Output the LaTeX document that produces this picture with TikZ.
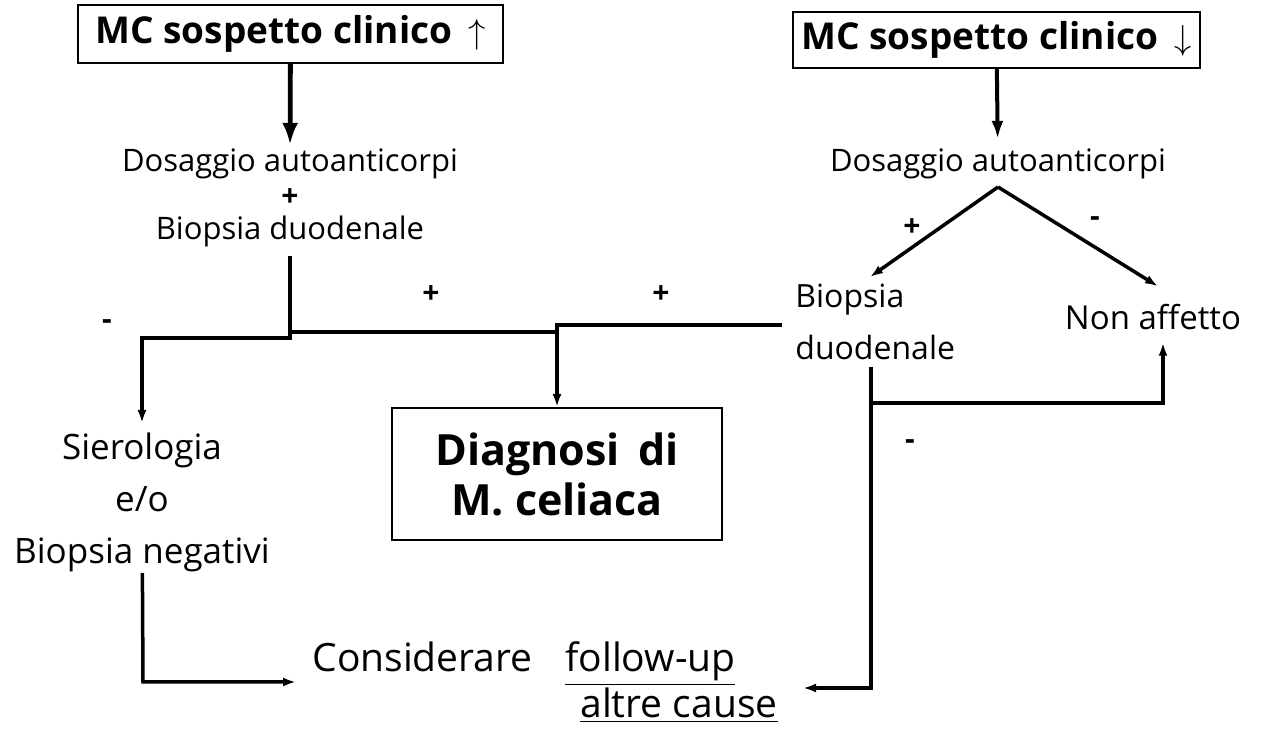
\documentclass[tikz,border=0pt]{standalone}
\usepackage{fontspec}
\setmainfont{Open Sans}
\usetikzlibrary{arrows.meta}
\begin{document}
\begin{tikzpicture}[x=0.5pt, y=-0.5pt, line join=miter, >={Latex[length=6.5pt,width=4.5pt]},
  testo/.style={inner sep=0pt, font=\fontsize{15.5}{26}\selectfont},
  mcbox/.style={draw, line width=1pt, inner sep=0pt, minimum height=29pt, font=\bfseries\fontsize{18.5}{20}\selectfont},
  segno/.style={inner sep=0pt, font=\bfseries\fontsize{15}{16}\selectfont},
  filo/.style={line width=1.75pt},
  freccia/.style={line width=2.4pt, -{Latex[length=11pt,width=8pt]}}]
 \useasboundingbox (0,0) rectangle (1265,737);
 \fill[white] (0,0) rectangle (1265,737);
 % ramo sospetto alto
 \node[mcbox, minimum width=212.5pt] (mcsu) at (290.5,34) {MC sospetto clinico\, $\uparrow$};
 \node[testo, anchor=base] (dosA) at (290,172) {Dosaggio autoanticorpi};
 \node[segno, anchor=base] (piuA) at (290,207) {+};
 \node[testo, anchor=base] (bioA) at (290,240) {Biopsia duodenale};
 \node[testo, font=\fontsize{17.5}{26}\selectfont, align=center, anchor=north] (siero) at (142,433)
   {Sierologia\\e/o\\Biopsia negativi};
 \node[draw, line width=1pt, inner sep=0pt, minimum width=165pt, minimum height=66pt,
   align=center, font=\bfseries\fontsize{21.5}{25}\selectfont] (diagn) at (557,474) {Diagnosi\, di\\M. celiaca};
 % ramo sospetto basso
 \node[mcbox, minimum width=203.5pt, minimum height=28pt] (mcgiu) at (996.5,40) {MC sospetto clinico\, $\downarrow$};
 \node[testo, anchor=base] (dosB) at (998,172) {Dosaggio autoanticorpi};
 \node[testo, font=\fontsize{16}{26}\selectfont, align=left, anchor=north west] (bioB) at (795,284) {Biopsia\\duodenale};
 \node[testo, font=\fontsize{16.5}{20}\selectfont, anchor=base] (nonaff) at (1153,330) {Non affetto};
 % conclusione
 \node[testo, font=\fontsize{19.5}{24}\selectfont, anchor=base west] (cons) at (312,672) {Considerare};
 \node[testo, font=\fontsize{19.5}{24}\selectfont, anchor=base west] (follow) at (565,672) {\underline{follow-up}};
 \node[testo, font=\fontsize{19.5}{24}\selectfont, anchor=base west] (altre) at (580,718) {\underline{altre cause}};
 % segni
 \node[segno] (menoA) at (107,325) {-};
 \node[segno] (piu1) at (431,295) {+};
 \node[segno] (piu2) at (661,295) {+};
 \node[segno] (piuV) at (912,228) {+};
 \node[segno] (menoV) at (1095,222) {-};
 \node[segno] (menoB) at (910,445) {-};
 % punti
 \coordinate (nodoA) at (290,338);
 \coordinate (nodoA2) at (290,332);
 \coordinate (bioBsx) at (782,325);
 \coordinate (vertB) at (998,187);
 \coordinate (bioBgiu) at (871,367);
 \coordinate (nodoB) at (871,403);
 \coordinate (angB) at (871,688);
 \coordinate (puntaB) at (803,688);
 \coordinate (angA) at (143,682);
 \coordinate (puntaA) at (296,682);
 % frecce
 \draw[freccia, shorten >=2pt] (mcsu) -- (dosA);
 \draw[line width=2pt, -{Latex[length=9pt,width=6pt]}, shorten >=5pt] (mcgiu) -- (dosB);
 \draw[filo, ->, shorten <=4pt, shorten >=5pt] (bioA) -- (nodoA) -| (siero);
 \draw[filo] (nodoA2) -- (nodoA2 -| diagn);
 \draw[filo, ->] (bioBsx) -| (diagn);
 \draw[filo, ->] (siero) -- (angA) -- (puntaA);
 \draw[filo, ->] (vertB) -- ([shift={(75,-7)}]bioB.north west);
 \draw[filo, ->] (vertB) -- ([shift={(5,-18)}]nonaff.north);
 \draw[filo, ->] (bioBgiu) -- (angB) -- (puntaB);
 \draw[filo, ->, shorten >=6pt] (nodoB) -| ([xshift=5]nonaff.south);
\end{tikzpicture}
\end{document}
